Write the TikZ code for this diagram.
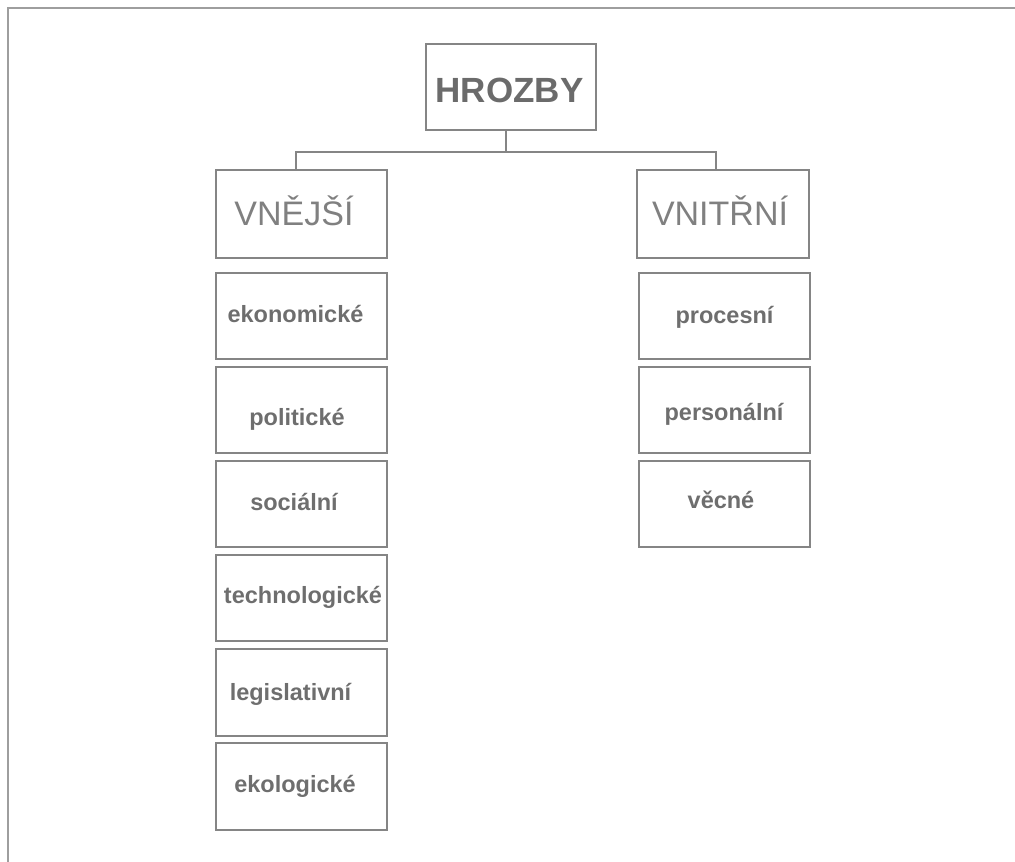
\documentclass[tikz,border=0pt]{standalone}
\usepackage{fontspec}
\setmainfont{Liberation Sans}
\begin{document}
\begin{tikzpicture}[x=1pt,y=-1pt,
  boxline/.style={draw=black!48, line width=1.7pt},
  box/.style={boxline, rectangle, inner sep=0pt, minimum width=171pt, minimum height=86pt},
  item/.style={anchor=base, inner sep=0pt, text=black!57, font=\fontsize{23.5}{28}\selectfont\bfseries},
  head/.style={anchor=base, inner sep=0pt, text=black!50, font=\fontsize{34}{40}\selectfont},
  title/.style={anchor=base, inner sep=0pt, text=black!58, font=\fontsize{35}{42}\selectfont\bfseries},
  frame/.style={draw=black!38, line width=2pt}
]
\useasboundingbox (0,0) rectangle (1015,862);
% outer frame: top and left edges only
\coordinate (fTL) at (8,8);
\coordinate (fTR) at (1015,8);
\coordinate (fBL) at (8,862);
\draw[frame] (fBL) -- (fTL) -- (fTR);

% root
\node[box, minimum width=170pt, minimum height=86pt] (hz) at (511,87) {};
\node[title] (hzt) at (509.5,102) {HROZBY};

% two branches
\node[box, minimum height=88pt] (vn) at (301.5,214) {};
\node[head] (vnt) at (294,225) {VNĚJŠÍ};
\node[box, minimum width=172pt, minimum height=88pt] (vt) at (723,214) {};
\node[head] (vtt) at (720,225) {VNITŘNÍ};

% connectors
\coordinate (jm) at (506,152);
\coordinate (jl) at (296,152);
\coordinate (jr) at (716,152);
\draw[boxline] (hz.south -| jm) -- (jm);
\draw[boxline] (vn.north -| jl) -- (jl) -- (jr) -- (vt.north -| jr);

% external threats
\node[box] (e1) at (301.5,316) {};
\node[item] (e1t) at (295.5,322) {ekonomické};
\node[box] (e2) at (301.5,410) {};
\node[item] (e2t) at (297,425) {politické};
\node[box] (e3) at (301.5,504) {};
\node[item] (e3t) at (294,510) {sociální};
\node[box] (e4) at (301.5,598) {};
\node[item] (e4t) at (303,603) {technologické};
\node[box, minimum height=87pt] (e5) at (301.5,692.5) {};
\node[item] (e5t) at (290.5,700) {legislativní};
\node[box, minimum height=87pt] (e6) at (301.5,786.5) {};
\node[item] (e6t) at (295,792) {ekologické};

% internal threats
\node[box] (i1) at (724.5,316) {};
\node[item] (i1t) at (724.5,323) {procesní};
\node[box] (i2) at (724.5,410) {};
\node[item] (i2t) at (724,420) {personální};
\node[box] (i3) at (724.5,504) {};
\node[item] (i3t) at (721,508) {věcné};
\end{tikzpicture}
\end{document}
